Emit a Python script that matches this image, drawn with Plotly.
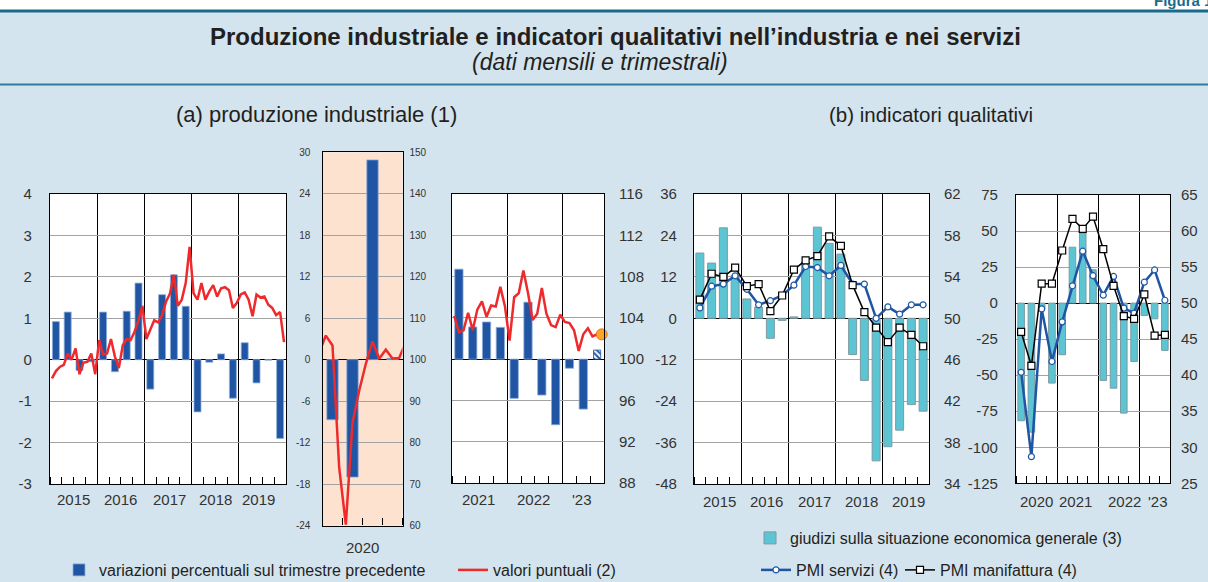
import plotly.graph_objects as go

W, H = 1208, 582
def px(x): return x / W
def py(y): return 1 - y / H

# ---------------- DATA ----------------
a1_qoq = [0.92, 1.15, -0.26, -0.05, 1.15, -0.29, 1.17, 1.85, -0.71, 1.57, 2.05, 1.29,
          -1.26, -0.06, 0.14, -0.93, 0.41, -0.56, -0.01, -1.90]
a1_index = [98.2, 98.9, 99.3, 99.5, 100.6, 100.0, 101.1, 98.6, 99.7, 99.8, 100.6, 98.6,
            101.9, 100.5, 100.6, 102.0, 100.3, 99.2, 101.4, 102.0, 101.9, 102.7, 103.8, 105.2,
            102.0, 102.9, 103.8, 103.6, 104.3, 105.6, 106.4, 108.2, 105.2, 105.8, 107.4, 110.9,
            106.4, 105.8, 107.4, 105.8, 106.6, 107.2, 106.1, 106.9, 107.0, 106.7, 105.0, 105.5,
            106.3, 106.5, 105.8, 104.2, 106.3, 106.0, 106.1, 105.3, 105.0, 104.3, 104.6, 101.7]
a2_qoq = [-8.7, -17.0, 28.9, 0.2]
a2_index = [105.8, 103.4, 74.0, 60.2, 84.8, 92.5, 99.0, 104.4, 100.2, 102.4, 100.3, 100.4]
a3_qoq = [2.18, 0.78, 0.90, 0.77, -0.95, 1.38, -0.87, -1.59, -0.22, -1.21]
a3_qoq_est = [0.22]
a3_index = [104.2, 102.6, 102.8, 104.5, 102.8, 104.8, 105.6, 104.1, 105.2, 105.1, 107.0, 105.1,
            101.8, 106.0, 106.4, 108.6, 106.4, 103.8, 104.4, 106.9, 104.4, 103.3, 103.1, 104.3,
            103.6, 103.5, 102.8, 100.8, 102.4, 103.0, 102.2, 102.4, 102.4]

b1_giudizi = [18.9, 16.0, 26.2, 12.4, 5.6, 3.2, -5.8, -0.6, 0.4, 16.2, 26.4, 21.7,
              18.6, -10.5, -18.0, -41.3, -37.2, -32.4, -25.0, -26.9]
b1_pmi_serv = [51.0, 53.1, 53.3, 54.1, 52.8, 51.3, 51.7, 52.2, 53.2, 55.0, 54.9, 54.1,
               55.1, 53.3, 53.3, 50.0, 51.1, 50.4, 51.3, 51.3]
b1_pmi_man = [51.8, 54.3, 54.0, 54.9, 53.1, 53.3, 50.7, 52.2, 54.7, 55.6, 56.0, 57.9,
              57.0, 53.2, 50.6, 49.1, 47.7, 49.1, 48.4, 47.3]
b2_giudizi = [-81.6, -89.5, -4.0, -55.5, -35.8, 38.8, 48.6, 23.1, -53.6, -59.0, -76.3, -40.5,
              -8.6, -10.9, -32.8]
b2_pmi_serv = [40.4, 28.7, 49.2, 41.9, 47.4, 52.4, 57.2, 53.8, 51.1, 53.7, 49.3, 48.6,
               52.9, 54.6, 50.4]
b2_pmi_man = [46.0, 41.3, 52.7, 52.7, 57.3, 61.7, 60.3, 62.0, 57.5, 52.4, 48.2, 47.8,
              51.2, 45.5, 45.6]

a1_years = ["2015", "2016", "2017", "2018", "2019"]
a2_years = ["2020"]
a3_years = ["2021", "2022", "'23"]
b1_years = ["2015", "2016", "2017", "2018", "2019"]
b2_years = ["2020", "2021", "2022", "'23"]

# ---------------- HELPERS ----------------
def qx(start, n): return [start + (i + 0.5) / 4 for i in range(n)]
def mx(start, n): return [start + (i + 0.5) / 12 for i in range(n)]

BLUE = '#1f55a3'
RED = '#ee2a2c'
TEAL = '#5bc5d4'
PEACH = '#fde2cf'
BG = '#d3e4ee'
GRID = '#a3a3a3'
TXT = '#333333'
DARK = '#231f20'
FONT = 'Liberation Sans, Arial, sans-serif'

fig = go.Figure()

BAR_LINE = dict(color='#8eaddb', width=0.8)
fig.add_trace(go.Bar(x=qx(2015, len(a1_qoq)), y=a1_qoq, width=0.148, marker=dict(color=BLUE, line=BAR_LINE),
                     name='variazioni percentuali sul trimestre precedente', xaxis='x', yaxis='y', legend='legend'))
fig.add_trace(go.Scatter(x=mx(2015, len(a1_index)), y=a1_index, mode='lines', line=dict(color=RED, width=2.5),
                         name='valori puntuali (2)', xaxis='x', yaxis='y2', legend='legend'))
fig.add_trace(go.Bar(x=qx(2020, len(a2_qoq)), y=a2_qoq, width=0.142, marker=dict(color=BLUE, line=BAR_LINE),
                     showlegend=False, xaxis='x2', yaxis='y3'))
a2_x = [2020 - 0.5 / 12] + mx(2020, len(a2_index)) + [2021 + 0.5 / 12]
a2_y = [a1_index[-1]] + a2_index + [a3_index[0]]
fig.add_trace(go.Scatter(x=a2_x, y=a2_y, mode='lines', line=dict(color=RED, width=2.5),
                         showlegend=False, xaxis='x2', yaxis='y4'))
fig.add_trace(go.Bar(x=qx(2021, len(a3_qoq)), y=a3_qoq, width=0.15, marker=dict(color=BLUE, line=BAR_LINE),
                     showlegend=False, xaxis='x3', yaxis='y5'))
fig.add_trace(go.Bar(x=qx(2021, len(a3_qoq) + 1)[len(a3_qoq):], y=a3_qoq_est, width=0.13,
                     marker=dict(color='white', line=dict(color=BLUE, width=0.8),
                                 pattern=dict(shape='\\', fgcolor=BLUE, bgcolor='white', size=4, solidity=0.5, fillmode='replace')),
                     showlegend=False, xaxis='x3', yaxis='y5'))
a3_x = mx(2021, len(a3_index))
fig.add_trace(go.Scatter(x=a3_x, y=a3_index, mode='lines', line=dict(color=RED, width=2.5),
                         showlegend=False, xaxis='x3', yaxis='y6'))
fig.add_trace(go.Scatter(x=a3_x[-1:], y=a3_index[-1:], mode='markers',
                         marker=dict(color='#f9a825', size=11, line=dict(color='#f06a1e', width=1)),
                         showlegend=False, xaxis='x3', yaxis='y6', cliponaxis=False))

TEAL_LINE = dict(color='#7e9aa3', width=1)
fig.add_trace(go.Bar(x=qx(2015, len(b1_giudizi)), y=b1_giudizi, width=0.17,
                     marker=dict(color=TEAL, line=TEAL_LINE),
                     name='giudizi sulla situazione economica generale (3)', xaxis='x4', yaxis='y7', legend='legend2'))
fig.add_trace(go.Scatter(x=qx(2015, len(b1_pmi_serv)), y=b1_pmi_serv, mode='lines+markers',
                         line=dict(color=BLUE, width=2.5),
                         marker=dict(symbol='circle', size=6, color='white', line=dict(color=BLUE, width=1.2)),
                         name='PMI servizi (4)', xaxis='x4', yaxis='y8', legend='legend3'))
fig.add_trace(go.Scatter(x=qx(2015, len(b1_pmi_man)), y=b1_pmi_man, mode='lines+markers',
                         line=dict(color='black', width=1.5),
                         marker=dict(symbol='square', size=7, color='white', line=dict(color='black', width=1.2)),
                         name='PMI manifattura (4)', xaxis='x4', yaxis='y8', legend='legend4'))
fig.add_trace(go.Bar(x=qx(2020, len(b2_giudizi)), y=b2_giudizi, width=0.16,
                     marker=dict(color=TEAL, line=TEAL_LINE),
                     showlegend=False, xaxis='x5', yaxis='y9'))
fig.add_trace(go.Scatter(x=qx(2020, len(b2_pmi_serv)), y=b2_pmi_serv, mode='lines+markers',
                         line=dict(color=BLUE, width=2.5),
                         marker=dict(symbol='circle', size=6, color='white', line=dict(color=BLUE, width=1.2)),
                         showlegend=False, xaxis='x5', yaxis='y10'))
fig.add_trace(go.Scatter(x=qx(2020, len(b2_pmi_man)), y=b2_pmi_man, mode='lines+markers',
                         line=dict(color='black', width=1.5),
                         marker=dict(symbol='square', size=7, color='white', line=dict(color='black', width=1.2)),
                         showlegend=False, xaxis='x5', yaxis='y10'))

# ---------------- AXES ----------------
def xmain(dom, start, end, anchor):
    return dict(domain=dom, range=[start, end], anchor=anchor,
                tickmode='array', tickvals=list(range(int(start) + 1, int(end + 0.999))),
                showticklabels=False, ticks='', showgrid=True, gridcolor='black', gridwidth=1.2,
                zeroline=False, showline=True, linecolor='black', linewidth=1.2, mirror=True,
                minor=dict(dtick=0.25, tick0=start, ticks='inside', ticklen=7, tickcolor='black',
                           tickwidth=1, showgrid=False))

def ticks_of(rng, dtick):
    vals = []
    v = rng[0]
    while v <= rng[1] + 1e-9:
        vals.append(v)
        v += dtick
    return vals, [str(t) for t in vals]

def yleft(dom, rng, dtick, anchor, size=15, standoff=12, labels=True):
    tv, tt = ticks_of(rng, dtick)
    return dict(domain=dom, range=rng, tickmode='array', tickvals=tv, ticktext=tt, anchor=anchor, side='left',
                showgrid=True, gridcolor=GRID, gridwidth=1, zeroline=True, zerolinecolor='black',
                zerolinewidth=1.3, showline=True, linecolor='black', linewidth=1.2, mirror=True,
                ticks='', showticklabels=labels, tickfont=dict(size=size, color=TXT),
                ticklabelstandoff=standoff)

def yright(over, rng, dtick, anchor, size=15, standoff=12):
    tv, tt = ticks_of(rng, dtick)
    return dict(overlaying=over, range=rng, tickmode='array', tickvals=tv, ticktext=tt, anchor=anchor, side='right',
                showgrid=False, zeroline=False, showline=False, ticks='',
                tickfont=dict(size=size, color=TXT), ticklabelstandoff=standoff)

dA1x = [px(50), px(286)]; dA1y = [py(484), py(194)]
dA2x = [px(322.5), px(402.5)]; dA2y = [py(525.5), py(152.3)]
dA3x = [px(452), px(604)]; dA3y = [py(483), py(194)]
dB1x = [px(694), px(929)]; dB1y = [py(484), py(194)]
dB2x = [px(1016), px(1170)]; dB2y = [py(483.3), py(195)]

fig.update_layout(
    xaxis=xmain(dA1x, 2015, 2020, 'y'),
    xaxis2=xmain(dA2x, 2020, 2021, 'y3'),
    xaxis3=xmain(dA3x, 2021, 2023.75, 'y5'),
    xaxis4=xmain(dB1x, 2015, 2020, 'y7'),
    xaxis5=xmain(dB2x, 2020, 2023.75, 'y9'),
    yaxis=yleft(dA1y, [-3, 4], 1, 'x', standoff=14),
    yaxis2=dict(overlaying='y', range=[88, 116], visible=False),
    yaxis3=yleft(dA2y, [-24, 30], 6, 'x2', size=10, standoff=9),
    yaxis4=yright('y3', [60, 150], 10, 'x2', size=10, standoff=6),
    yaxis5=yleft(dA3y, [-3, 4], 1, 'x3', labels=False),
    yaxis6=yright('y5', [88, 116], 4, 'x3', standoff=14),
    yaxis7=yleft(dB1y, [-48, 36], 12, 'x4', standoff=13),
    yaxis8=yright('y7', [34, 62], 4, 'x4', standoff=14),
    yaxis9=yleft(dB2y, [-125, 75], 25, 'x5', standoff=14),
    yaxis10=yright('y9', [25, 65], 5, 'x5', standoff=10),
)

year_label_specs = [
    ('x', a1_years, [2015.49, 2016.5, 2017.54, 2018.51, 2019.41], 499),
    ('x2', a2_years, [2020.5], 547),
    ('x3', a3_years, [2021.48, 2022.48, 2023.36], 500),
    ('x4', b1_years, [2015.55, 2016.55, 2017.56, 2018.56, 2019.57], 501),
    ('x5', b2_years, [2020.5, 2021.45, 2022.63, 2023.45], 501),
]
annotations = []
for xref, labels, pos, ypix in year_label_specs:
    for lab, xv in zip(labels, pos):
        annotations.append(dict(text=lab, x=xv, y=py(ypix), xref=xref, yref='paper', showarrow=False,
                                xanchor='center', yanchor='middle', font=dict(size=15, color=TXT)))

annotations += [
    dict(text='<b>Figura 1.</b>', x=px(1152), y=py(1), xref='paper', yref='paper',
         xanchor='left', yanchor='middle', showarrow=False, font=dict(size=15, color='#1b6a8a')),
    dict(text='<b>Produzione industriale e indicatori qualitativi nell’industria e nei servizi</b>',
         x=px(615), y=py(36), xref='paper', yref='paper', showarrow=False, xanchor='center', yanchor='middle',
         font=dict(size=24, color=DARK)),
    dict(text='<i>(dati mensili e trimestrali)</i>', x=px(600), y=py(62), xref='paper', yref='paper',
         showarrow=False, xanchor='center', yanchor='middle', font=dict(size=23, color=DARK)),
    dict(text='(a) produzione industriale (1)', x=px(316), y=py(115), xref='paper', yref='paper',
         showarrow=False, xanchor='center', yanchor='middle', font=dict(size=22, color=DARK)),
    dict(text='(b) indicatori qualitativi', x=px(931), y=py(115), xref='paper', yref='paper',
         showarrow=False, xanchor='center', yanchor='middle', font=dict(size=20.5, color=DARK)),
]

LEG = dict(orientation='h', xanchor='left', yanchor='middle', bgcolor='rgba(0,0,0,0)',
           font=dict(size=16, color=DARK))
fig.update_layout(
    width=W, height=H, autosize=False, margin=dict(l=0, r=0, t=0, b=0, autoexpand=False),
    paper_bgcolor=BG, plot_bgcolor='white', barmode='overlay',
    font=dict(family=FONT, color=TXT, size=14),
    legend=dict(LEG, x=px(59), y=py(570), entrywidth=349, entrywidthmode='pixels'),
    legend2=dict(LEG, x=px(750), y=py(538)),
    legend3=dict(LEG, x=px(756), y=py(570)),
    legend4=dict(LEG, x=px(900), y=py(570)),
    shapes=[
        dict(type='rect', xref='paper', yref='paper', x0=0, x1=1, y0=py(10), y1=1,
             fillcolor='white', line=dict(width=0)),
        dict(type='line', xref='paper', yref='paper', x0=0, x1=1, y0=py(11), y1=py(11),
             line=dict(color='#1b6a8a', width=3)),
        dict(type='line', xref='paper', yref='paper', x0=0, x1=1, y0=py(84.5), y1=py(84.5),
             line=dict(color='#2f7d9c', width=2)),
        dict(type='rect', xref='x2 domain', yref='y3 domain', x0=0, x1=1, y0=0, y1=1,
             fillcolor=PEACH, line=dict(width=0), layer='below'),
    ],
    annotations=annotations,
)

fig.write_html("out.html", config={'displayModeBar': False},
               post_script="document.body.style.margin='0';document.body.style.background='" + BG + "';")
